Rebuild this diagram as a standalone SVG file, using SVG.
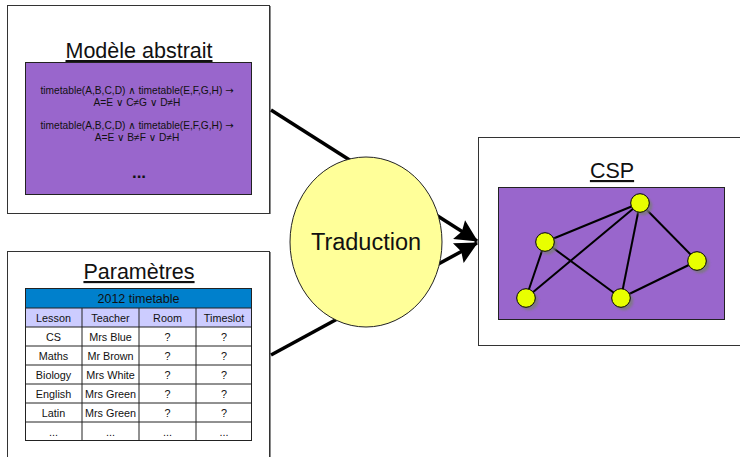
<svg xmlns="http://www.w3.org/2000/svg" width="740" height="457" viewBox="0 0 740 457">
  <defs>
    <style>
      .frame { fill: #ffffff; stroke: #333333; stroke-width: 1; }
      .edgeShade { fill: #8a8a8a; }
      .panel { fill: #9966cc; stroke: #222222; stroke-width: 1; }
      .title { font-family: "Liberation Sans", Arial, sans-serif; font-size: 21.5px; fill: #111111; text-anchor: middle; text-decoration: underline; }
      .formula { font-family: "Liberation Sans", "DejaVu Sans", sans-serif; font-size: 10.2px; fill: #111111; text-anchor: middle; }
      .arrowGlyph { font-family: "DejaVu Sans", sans-serif; font-size: 10px; }
      .cell { font-family: "Liberation Sans", Arial, sans-serif; font-size: 10.8px; fill: #111111; text-anchor: middle; }
      .caption { font-size: 12.5px; }
      .grid { stroke: #222222; stroke-width: 1; fill: none; }
      .flow { stroke: #000000; stroke-width: 3.5; fill: none; }
      .graphEdge { stroke: #000000; stroke-width: 2; }
      .vertex { fill: #e8ff00; stroke: #000000; stroke-width: 1; }
      .vertexShade { fill: #7a7a7a; opacity: 0.8; }
    </style>
    <marker id="arrowHead" viewBox="0 0 10 10" refX="9.5" refY="5" markerWidth="7" markerHeight="6.4" markerUnits="strokeWidth" orient="auto">
      <path d="M0,0 L10,5 L0,10 L1.5,5 Z" fill="#000000"/>
    </marker>
    <filter id="soft" x="-50%" y="-50%" width="200%" height="200%">
      <feGaussianBlur stdDeviation="1"/>
    </filter>
  </defs>

  <!-- Modèle abstrait -->
  <g id="modele-abstrait">
    <rect class="edgeShade" x="269" y="6" width="2" height="208"/>
    <rect class="frame" x="7.5" y="5.5" width="262" height="208"/>
    <text class="title" x="139" y="58">Modèle abstrait</text>
    <rect class="panel" x="25.5" y="62.5" width="226" height="132"/>
    <text class="formula" x="137" y="94">timetable(A,B,C,D) ∧ timetable(E,F,G,H) <tspan class="arrowGlyph">→</tspan></text>
    <text class="formula" x="137" y="106">A=E ∨ C≠G ∨ D≠H</text>
    <text class="formula" x="137" y="129">timetable(A,B,C,D) ∧ timetable(E,F,G,H) <tspan class="arrowGlyph">→</tspan></text>
    <text class="formula" x="137" y="141">A=E ∨ B≠F ∨ D≠H</text>
    <text x="139" y="178" font-family="Liberation Sans, Arial, sans-serif" font-size="17" font-weight="bold" text-anchor="middle" fill="#111111">...</text>
  </g>

  <!-- Paramètres -->
  <g id="parametres">
    <rect class="edgeShade" x="269" y="252" width="2" height="210"/>
    <rect class="frame" x="7.5" y="251.5" width="262" height="215"/>
    <text class="title" x="139" y="279">Paramètres</text>
    <rect x="25.5" y="288.5" width="226" height="19.5" fill="#0080cc"/>
    <rect x="25.5" y="308" width="226" height="19" fill="#ccccff"/>
    <rect x="25.5" y="327" width="226" height="114" fill="#ffffff"/>
    <g class="grid">
      <rect x="25.5" y="288.5" width="226" height="152"/>
      <line x1="25.5" y1="308" x2="251.5" y2="308"/>
      <line x1="25.5" y1="327" x2="251.5" y2="327"/>
      <line x1="25.5" y1="346" x2="251.5" y2="346"/>
      <line x1="25.5" y1="365" x2="251.5" y2="365"/>
      <line x1="25.5" y1="384" x2="251.5" y2="384"/>
      <line x1="25.5" y1="403" x2="251.5" y2="403"/>
      <line x1="25.5" y1="422" x2="251.5" y2="422"/>
      <line x1="82" y1="308" x2="82" y2="440.5"/>
      <line x1="139" y1="308" x2="139" y2="440.5"/>
      <line x1="196" y1="308" x2="196" y2="440.5"/>
    </g>
    <text class="cell caption" x="138.5" y="303">2012 timetable</text>
    <text class="cell" x="53.5" y="321.5">Lesson</text>
    <text class="cell" x="110.5" y="321.5">Teacher</text>
    <text class="cell" x="167.5" y="321.5">Room</text>
    <text class="cell" x="224" y="321.5">Timeslot</text>

    <text class="cell" x="53.5" y="340.5">CS</text>
    <text class="cell" x="110.5" y="340.5">Mrs Blue</text>
    <text class="cell" x="167.5" y="340.5">?</text>
    <text class="cell" x="224" y="340.5">?</text>

    <text class="cell" x="53.5" y="359.5">Maths</text>
    <text class="cell" x="110.5" y="359.5">Mr Brown</text>
    <text class="cell" x="167.5" y="359.5">?</text>
    <text class="cell" x="224" y="359.5">?</text>

    <text class="cell" x="53.5" y="378.5">Biology</text>
    <text class="cell" x="110.5" y="378.5">Mrs White</text>
    <text class="cell" x="167.5" y="378.5">?</text>
    <text class="cell" x="224" y="378.5">?</text>

    <text class="cell" x="53.5" y="397.5">English</text>
    <text class="cell" x="110.5" y="397.5">Mrs Green</text>
    <text class="cell" x="167.5" y="397.5">?</text>
    <text class="cell" x="224" y="397.5">?</text>

    <text class="cell" x="53.5" y="416.5">Latin</text>
    <text class="cell" x="110.5" y="416.5">Mrs Green</text>
    <text class="cell" x="167.5" y="416.5">?</text>
    <text class="cell" x="224" y="416.5">?</text>

    <text class="cell" x="53.5" y="435.5">...</text>
    <text class="cell" x="110.5" y="435.5">...</text>
    <text class="cell" x="167.5" y="435.5">...</text>
    <text class="cell" x="224" y="435.5">...</text>
  </g>

  <!-- Flows into the CSP box (drawn under the Traduction ellipse) -->
  <g id="connectors">
    <line class="flow" x1="271" y1="110" x2="477" y2="241" marker-end="url(#arrowHead)"/>
    <line class="flow" x1="271" y1="355" x2="477" y2="243" marker-end="url(#arrowHead)"/>
  </g>

  <!-- Traduction -->
  <g id="traduction">
    <ellipse cx="366" cy="242" rx="76" ry="85" fill="#ffff99" stroke="#222222" stroke-width="1"/>
    <text x="366" y="250" font-family="Liberation Sans, Arial, sans-serif" font-size="23.5" text-anchor="middle" fill="#111111">Traduction</text>
  </g>

  <!-- CSP -->
  <g id="csp">
    <rect class="frame" x="478.5" y="137.5" width="270" height="208"/>
    <text class="title" x="612" y="178">CSP</text>
    <rect class="panel" x="498.5" y="187.5" width="226" height="132"/>
    <g id="csp-edges">
      <line class="graphEdge" x1="545" y1="242" x2="640" y2="203"/>
      <line class="graphEdge" x1="545" y1="242" x2="526" y2="298"/>
      <line class="graphEdge" x1="545" y1="242" x2="621" y2="298"/>
      <line class="graphEdge" x1="640" y1="203" x2="526" y2="298"/>
      <line class="graphEdge" x1="640" y1="203" x2="621" y2="298"/>
      <line class="graphEdge" x1="640" y1="203" x2="697" y2="261"/>
      <line class="graphEdge" x1="621" y1="298" x2="697" y2="261"/>
    </g>
    <g id="csp-vertices">
      <circle class="vertexShade" cx="548" cy="245" r="9.3" filter="url(#soft)"/>
      <circle class="vertex" cx="545" cy="242" r="9.3"/>
      <circle class="vertexShade" cx="643" cy="206" r="9.3" filter="url(#soft)"/>
      <circle class="vertex" cx="640" cy="203" r="9.3"/>
      <circle class="vertexShade" cx="700" cy="264" r="9.3" filter="url(#soft)"/>
      <circle class="vertex" cx="697" cy="261" r="9.3"/>
      <circle class="vertexShade" cx="529" cy="301" r="9.3" filter="url(#soft)"/>
      <circle class="vertex" cx="526" cy="298" r="9.3"/>
      <circle class="vertexShade" cx="624" cy="301" r="9.3" filter="url(#soft)"/>
      <circle class="vertex" cx="621" cy="298" r="9.3"/>
    </g>
  </g>
</svg>
